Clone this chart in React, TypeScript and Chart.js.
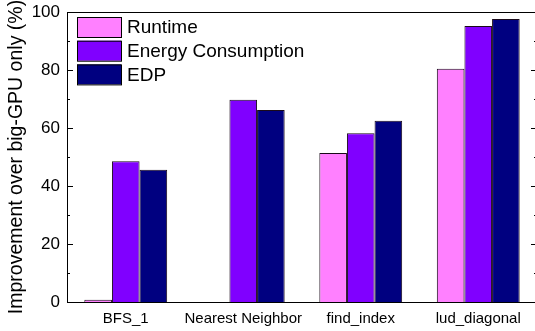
import React, { useEffect, useRef } from "react";
import { Chart, registerables } from "chart.js";

Chart.register(...registerables);

const categories = ["BFS_1", "Nearest Neighbor", "find_index", "lud_diagonal"];
const seriesNames = ["Runtime", "Energy Consumption", "EDP"];
const runtime = [0.8, 0, 51.4, 80.4];
const energy = [48.5, 69.7, 58.2, 95.2];
const edp = [45.6, 66.2, 62.5, 97.6];
const seriesColors = ["#FF80FF", "#8000FF", "#000080"];
const yTicksMajor = [0, 20, 40, 60, 80, 100];
const yTicksMinor = [10, 30, 50, 70, 90];
const yTitle = "Improvement over big-GPU only (%)";

const FONT = 'Arial, "Liberation Sans", sans-serif';

const framePlugin = {
  id: "frame",
  afterDraw(chart: any) {
    const { ctx, chartArea } = chart;
    const y = chart.scales.y;
    const { left, right, top, bottom } = chartArea;
    ctx.save();
    ctx.strokeStyle = "#000";
    ctx.lineWidth = 1;
    ctx.beginPath();
    ctx.moveTo(left, Math.round(top) + 0.5);
    ctx.lineTo(right, Math.round(top) + 0.5);
    ctx.moveTo(Math.round(right) + 0.5, top);
    ctx.lineTo(Math.round(right) + 0.5, bottom);
    const drawTick = (v: number, len: number) => {
      const py = Math.round(y.getPixelForValue(v)) + 0.5;
      ctx.moveTo(left, py);
      ctx.lineTo(left + len, py);
      ctx.moveTo(right, py);
      ctx.lineTo(right - len, py);
    };
    yTicksMajor.forEach((v) => drawTick(v, 6));
    yTicksMinor.forEach((v) => drawTick(v, 3));
    ctx.stroke();

    // legend
    const bx = left + 10;
    const by = top + 5;
    const bw = 44;
    const bh = 20;
    const step = 23.7;
    ctx.font = `19px ${FONT}`;
    ctx.textBaseline = "middle";
    ctx.textAlign = "left";
    seriesNames.forEach((name, i) => {
      const yy = by + i * step;
      ctx.fillStyle = seriesColors[i];
      ctx.fillRect(bx, yy, bw, bh);
      ctx.strokeStyle = "#000";
      ctx.strokeRect(bx + 0.5, yy + 0.5, bw, bh);
      ctx.fillStyle = "#000";
      ctx.fillText(name, bx + bw + 6, yy + bh / 2 + 1);
    });
    ctx.restore();
  },
};

export default function App() {
  const ref = useRef<HTMLCanvasElement>(null);
  useEffect(() => {
    if (!ref.current) return;
    Chart.defaults.color = "#000";
    const chart = new Chart(ref.current, {
      type: "bar",
      data: {
        labels: categories,
        datasets: [runtime, energy, edp].map((d, i) => ({
          label: seriesNames[i],
          data: d,
          backgroundColor: seriesColors[i],
          borderColor: "#1a0a1a",
          borderWidth: 1,
          categoryPercentage: 0.705,
          barPercentage: 1,
        })),
      },
      options: {
        animation: false,
        responsive: true,
        maintainAspectRatio: false,
        layout: { padding: { top: 12, right: 3, bottom: 0, left: 0 } },
        plugins: { legend: { display: false }, tooltip: { enabled: false } },
        scales: {
          x: {
            grid: { display: false, drawTicks: false },
            border: { display: true, color: "#000", width: 1 },
            ticks: { font: { size: 15, family: FONT }, padding: 8, color: "#000", maxRotation: 0, autoSkip: false },
            afterFit: (s: any) => {
              s.height = 29;
              s.paddingLeft = 0;
              s.paddingRight = 0;
            },
          },
          y: {
            min: 0,
            max: 100,
            grid: { display: false, drawTicks: false },
            border: { display: true, color: "#000", width: 1 },
            ticks: { stepSize: 20, font: { size: 17, family: FONT }, padding: 7, color: "#000" },
            title: {
              display: true,
              text: yTitle,
              font: { size: 19.5, family: FONT },
              color: "#000",
              padding: { top: 5, bottom: 0 },
            },
            afterFit: (s: any) => {
              s.width = 67;
              s.paddingTop = 0;
              s.paddingBottom = 0;
            },
          },
        },
      },
      plugins: [framePlugin],
    });
    return () => chart.destroy();
  }, []);
  return (
    <div style={{ position: "fixed", left: 0, top: 0, width: 535, height: 331, overflow: "hidden", background: "#fff" }}>
      <div style={{ position: "relative", width: 540, height: 331 }}>
        <canvas ref={ref} />
      </div>
    </div>
  );
}
